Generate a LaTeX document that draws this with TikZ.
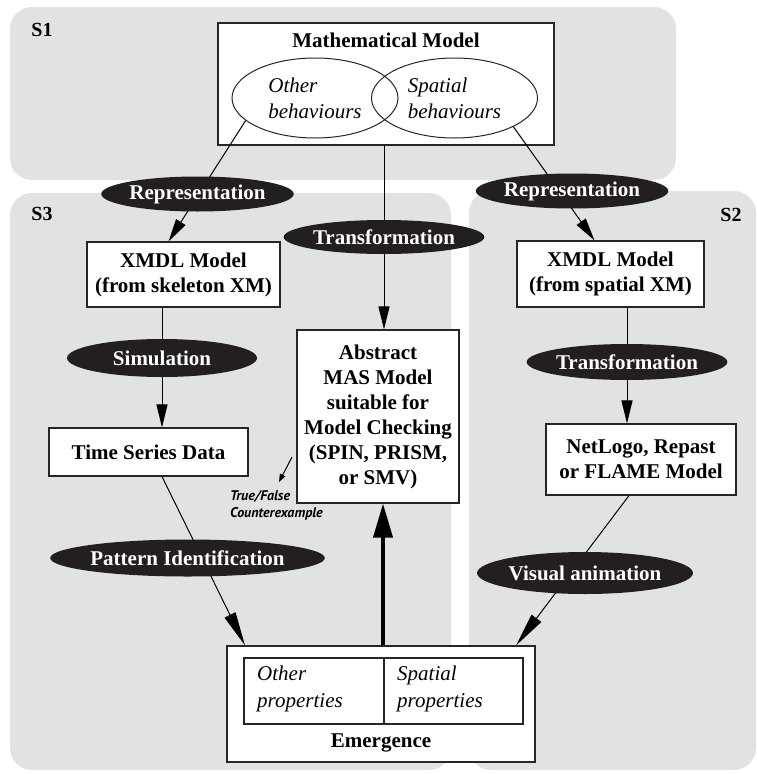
\documentclass[tikz,border=0pt]{standalone}
\usepackage{fontspec}
\setmainfont{Liberation Serif}
\newfontfamily\notefont{PT Sans}
\usetikzlibrary{shapes.geometric,arrows.meta,calc}
\definecolor{panelgray}{RGB}{225,226,228}
\definecolor{ovalfill}{RGB}{35,31,32}
\pgfdeclarelayer{background}
\pgfdeclarelayer{links}
\pgfsetlayers{background,links,main}

\begin{document}
\begin{tikzpicture}[x=1pt,y=-1pt,
  panel/.style={fill=panelgray, rounded corners=22pt},
  box/.style={draw=black!85, line width=1.1pt, fill=white, inner sep=0pt,
    align=center, font=\fontsize{21}{25}\selectfont\bfseries},
  title/.style={inner sep=0pt, font=\fontsize{21}{25}\selectfont\bfseries},
  seclabel/.style={inner sep=0pt, font=\fontsize{20}{24}\selectfont\bfseries},
  behav/.style={ellipse, draw=black!85, line width=1pt, inner sep=0pt,
    align=left, font=\fontsize{21}{26}\selectfont\itshape},
  cell/.style={draw=black!85, line width=1.1pt, inner sep=0pt},
  celltext/.style={inner sep=0pt, anchor=west, align=left,
    font=\fontsize{21}{27}\selectfont\itshape},
  oval/.style={ellipse, fill=ovalfill, text=white, inner sep=0pt,
    font=\fontsize{21}{25}\selectfont\bfseries},
  link/.style={line width=1pt},
  arr/.style={link, -{Triangle[length=23pt,width=11pt]}},
  longarr/.style={link, -{Triangle[length=34pt,width=12pt]}},
  bigarr/.style={line width=4pt, -{Triangle[length=34pt,width=19pt]}},
  note/.style={inner sep=0pt, anchor=west, align=left,
    font=\notefont\fontsize{14}{17}\selectfont\bfseries\itshape},
]
\useasboundingbox (0,0) rectangle (757,774);

% section panels and the mathematical model
\begin{pgfonlayer}{background}
  \fill[panel] (10,7) rectangle (676,180);
  \fill[panel] (10,193) rectangle (451,770);
  \fill[panel] (469,191) rectangle (756,770);
  \node[box, minimum width=336pt, minimum height=122pt] (math) at (386,84) {};
  \node[behav, minimum width=166pt, minimum height=80pt] (oth) at (315,98) {Other\\behaviours};
  \node[behav, minimum width=166pt, minimum height=80pt] (spa) at (454.5,98) {Spatial\\behaviours};
\end{pgfonlayer}

\node[title] (mtitle) at (386,40) {Mathematical Model};

\node[seclabel] (s1) at (42,30) {S1};
\node[seclabel] (s3) at (42,214) {S3};
\node[seclabel] (s2) at (731,215) {S2};

% model boxes
\node[box, minimum width=193pt, minimum height=65pt] (xl) at (183.5,274.5) {XMDL Model\\(from skeleton XM)};
\node[box, minimum width=187pt, minimum height=66pt] (xr) at (610.5,274) {XMDL Model\\(from spatial XM)};
\node[box, minimum width=162pt, minimum height=173pt] (abs) at (378,416.5)
  {Abstract\\MAS Model\\suitable for\\Model Checking\\(SPIN, PRISM,\\or SMV)};
\node[box, minimum width=199pt, minimum height=48pt] (tsd) at (148.5,452) {Time Series Data};
\node[box, minimum width=190pt, minimum height=71pt] (net) at (641,459.5) {NetLogo, Repast\\or FLAME Model};

% emergence box with its two property cells
\node[box, minimum width=308pt, minimum height=116pt] (emg) at (381,704) {};
\node[cell, minimum width=140pt, minimum height=66pt] (cl) at (314,691) {};
\node[cell, minimum width=139pt, minimum height=66pt] (cr) at (453.5,691) {};
\node[celltext] (clt) at (257,689) {Other\\properties};
\node[celltext] (crt) at (397,689) {Spatial\\properties};
\node[title] (etitle) at (381,743) {Emergence};

% process ovals
\node[oval, minimum width=183pt, minimum height=35pt] (rl) at (197.5,194) {Representation};
\node[oval, minimum width=184pt, minimum height=35pt] (rr) at (572,191) {Representation};
\node[oval, minimum width=183pt, minimum height=34pt] (tc) at (384,237) {Transformation};
\node[oval, minimum width=190pt, minimum height=38pt] (sim) at (162,358) {Simulation};
\node[oval, minimum width=183pt, minimum height=36pt] (tr) at (627,362) {Transformation};
\node[oval, minimum width=231pt, minimum height=37pt] (pat) at (187.5,558) {Pattern Identification};
\node[oval, minimum width=204pt, minimum height=42pt] (vis) at (585,573) {Visual animation};

% model-checking outcome
\node[note] (tf) at (230,505) {True/False\\Counterexample};
\coordinate (tfs) at (292,457);
\coordinate (tfe) at (279,482);

% connectors
\begin{pgfonlayer}{links}
  \draw[arr] (oth.198) -- ([xshift=-15pt]xl.north);
  \draw[arr] (spa.334) -- ([xshift=-16pt]xr.north);
  \draw[arr] (math.south -| tc) -- (abs.north -| tc);
  \draw[arr] (xl.south -| sim) -- (tsd.north -| sim);
  \draw[arr] (xr.south -| tr) -- (net.north -| tr);
  \draw[longarr] ([xshift=13.5pt]tsd.south) -- ([xshift=-136pt]emg.north);
  \draw[longarr] ([xshift=-12pt]net.south) -- ([xshift=135pt]emg.north);
  \draw[bigarr] ([xshift=2pt]emg.north) -- ([xshift=5pt]abs.south);
  \draw[link, -{Triangle[length=8pt,width=6pt]}] (tfs) -- (tfe);
\end{pgfonlayer}
\end{tikzpicture}
\end{document}
